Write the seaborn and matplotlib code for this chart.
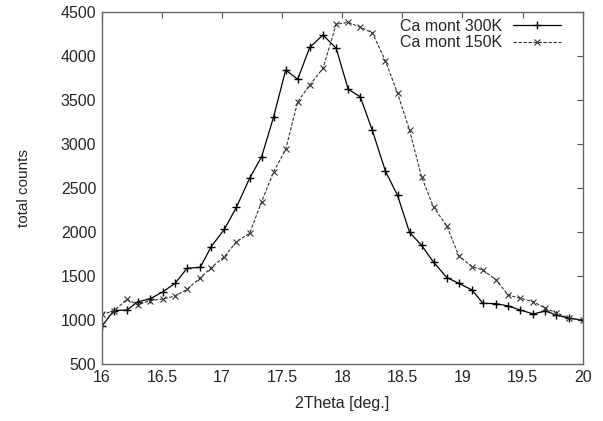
import numpy as np
import matplotlib
matplotlib.use("Agg")
import matplotlib.pyplot as plt
import seaborn as sns
import pandas as pd

# 2Theta positions (shared by both scans)
two_theta = [16.00, 16.10, 16.21, 16.30, 16.40, 16.51, 16.61, 16.71, 16.82, 16.91,
             17.02, 17.12, 17.23, 17.33, 17.43, 17.53, 17.63, 17.73, 17.84, 17.95,
             18.05, 18.15, 18.25, 18.36, 18.46, 18.56, 18.66, 18.76, 18.87, 18.97,
             19.08, 19.17, 19.28, 19.38, 19.48, 19.59, 19.69, 19.78, 19.89, 20.00]

counts_300k = [930, 1110, 1117, 1211, 1242, 1325, 1420, 1591, 1602, 1836,
               2034, 2284, 2614, 2859, 3314, 3844, 3739, 4102, 4242, 4091,
               3625, 3541, 3160, 2693, 2420, 2000, 1852, 1660, 1486, 1420,
               1344, 1193, 1189, 1163, 1117, 1072, 1106, 1060, 1023, 1003]

counts_150k = [1068, 1106, 1239, 1174, 1223, 1242, 1276, 1352, 1484, 1598,
               1723, 1893, 1989, 2348, 2689, 2943, 3484, 3674, 3864, 4364,
               4386, 4330, 4268, 3947, 3580, 3162, 2632, 2284, 2073, 1732,
               1609, 1572, 1458, 1288, 1250, 1211, 1136, 1086, 1023, 1003]

labels = ["Ca mont 300K", "Ca mont 150K"]
x_ticks = [16, 16.5, 17, 17.5, 18, 18.5, 19, 19.5, 20]
y_ticks = [500, 1000, 1500, 2000, 2500, 3000, 3500, 4000, 4500]

df = pd.DataFrame({"two_theta": two_theta, "c300": counts_300k, "c150": counts_150k})

sns.set_style("white")
plt.rcParams["font.family"] = ["Liberation Sans", "DejaVu Sans"]

fig = plt.figure(figsize=(6.03, 4.21), dpi=100)
ax = fig.add_axes([0.1687, 0.1347, 0.7976, 0.8361])

sns.lineplot(data=df, x="two_theta", y="c300", ax=ax, color="black",
             linewidth=0.9, marker="+", markersize=5.5, markeredgewidth=1.0,
             markeredgecolor="black", label=labels[0])
sns.lineplot(data=df, x="two_theta", y="c150", ax=ax, color="#333333",
             linewidth=0.8, linestyle=(0, (3, 1.5)), marker="x", markersize=4.5,
             markeredgewidth=0.8, markeredgecolor="#333333", label=labels[1])

ax.set_xlim(16, 20)
ax.set_ylim(500, 4500)
ax.set_xticks(x_ticks)
ax.set_xticklabels(["16", "16.5", "17", "17.5", "18", "18.5", "19", "19.5", "20"])
ax.set_yticks(y_ticks)
ax.tick_params(direction="in", length=4, width=0.8, color="#555555",
               labelsize=11.5, top=True, right=True, pad=4)
for s in ax.spines.values():
    s.set_color("#666666")
    s.set_linewidth(1.0)

ax.set_xlabel("2Theta [deg.]", fontsize=11.5, labelpad=8)
ax.set_ylabel("total counts", fontsize=11, labelpad=21)

ax.legend(loc="upper right", bbox_to_anchor=(0.968, 1.0), frameon=False,
          markerfirst=False, fontsize=11.5, handlelength=3.0, handletextpad=0.7,
          borderaxespad=0.2, labelspacing=0.1, borderpad=0.2)

fig.savefig("out.png", dpi=100)
